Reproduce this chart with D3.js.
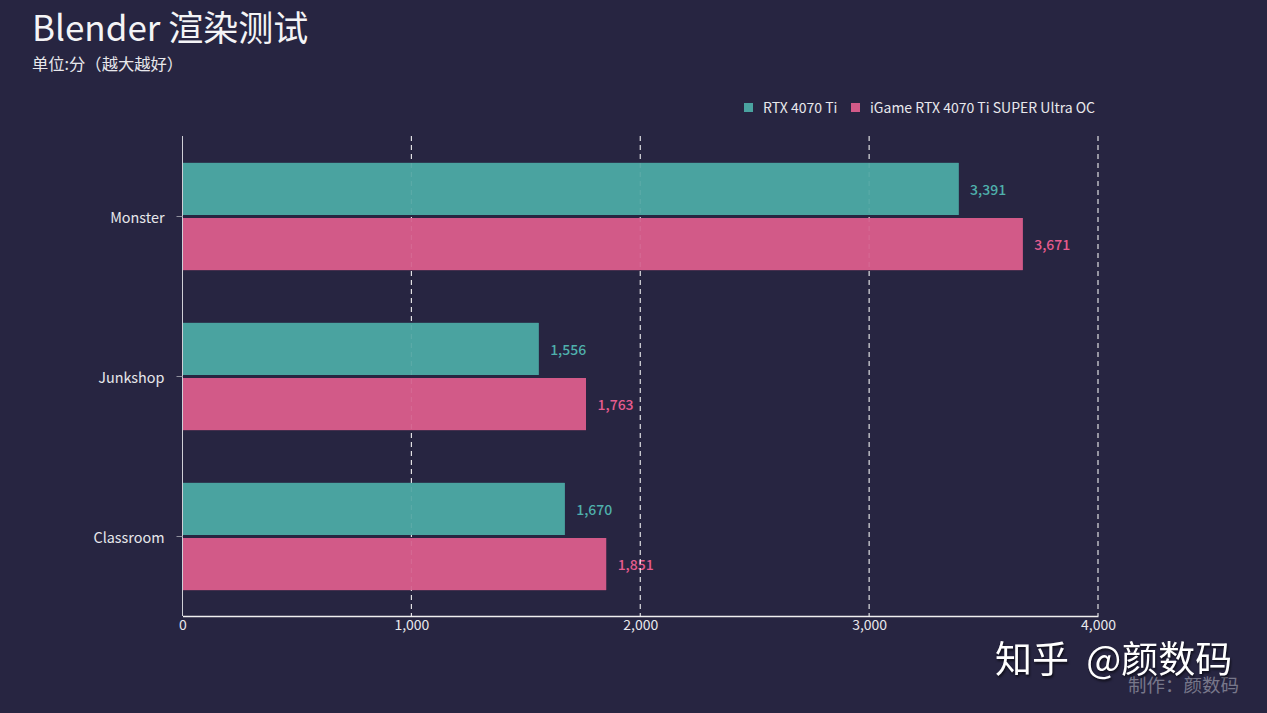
<!DOCTYPE html>
<html>
<head>
<meta charset="utf-8">
<script src="https://cdn.jsdelivr.net/npm/d3@7"></script>
<style>
    html, body { margin: 0; padding: 0; background: #272541; overflow: hidden; }
    text { font-family: "Noto Sans CJK SC", "Noto Sans", sans-serif; }
</style>
</head>
<body>
<script>
var categories = ["Monster", "Junkshop", "Classroom"];
var seriesNames = ["RTX 4070 Ti", "iGame RTX 4070 Ti SUPER Ultra OC"];
var rtx4070Ti = [3391, 1556, 1670];
var igameSuper = [3671, 1763, 1851];
var xTicks = [0, 1000, 2000, 3000, 4000];
var colors = ["#4aa3a0", "#d25a88"];
var labelColors = ["#4fb0ac", "#e65c8e"];

var svg = d3.select("body")
    .append("svg")
    .attr("width", 1267)
    .attr("height", 713);

svg.append("rect")
    .attr("width", 1267)
    .attr("height", 713)
    .attr("fill", "#272541");

var x = d3.scaleLinear().domain([0, 4000]).range([182.5, 1098]);
var y = d3.scaleBand().domain(categories).range([136.5, 616.5])
    .paddingInner(0.33).paddingOuter(0.165);
var yInner = d3.scaleBand().domain(seriesNames).range([0, y.bandwidth()])
    .paddingInner(0.055);

// Title block
svg.append("text").attr("x", 32).attr("y", 41)
    .attr("font-size", 35).attr("fill", "#f4f4f6")
    .text("Blender 渲染测试");
svg.append("text").attr("x", 32).attr("y", 70)
    .attr("font-size", 16.3).attr("fill", "#e8e8ec")
    .text("单位:分（越大越好）");

// Legend
var legendItems = [
    { swatch: 744, label: 763 },
    { swatch: 851, label: 870 }
];
seriesNames.forEach(function (name, i) {
    svg.append("rect")
        .attr("x", legendItems[i].swatch).attr("y", 103)
        .attr("width", 9).attr("height", 9)
        .attr("fill", colors[i]);
    svg.append("text")
        .attr("x", legendItems[i].label).attr("y", 113)
        .attr("font-size", 14).attr("fill", "#e8e8ec")
        .text(name);
});

// Bars
var rows = [rtx4070Ti, igameSuper];
rows.forEach(function (values, s) {
    svg.selectAll(".bar" + s)
        .data(values)
        .enter()
        .append("rect")
        .attr("class", "bar" + s)
        .attr("x", x(0))
        .attr("y", function (d, i) { return y(categories[i]) + yInner(seriesNames[s]); })
        .attr("width", function (d) { return x(d) - x(0); })
        .attr("height", yInner.bandwidth())
        .attr("fill", colors[s]);

    svg.selectAll(".value" + s)
        .data(values)
        .enter()
        .append("text")
        .attr("class", "value" + s)
        .attr("x", function (d) { return x(d) + 11.5; })
        .attr("y", function (d, i) { return y(categories[i]) + yInner(seriesNames[s]) + yInner.bandwidth() / 2 + 1; })
        .attr("dy", "0.35em")
        .attr("font-size", 14)
        .attr("font-weight", 500)
        .attr("fill", labelColors[s])
        .text(d3.format(","));
});

// Dashed grid, faint over the bars because the bars sit just under it
var grid = svg.append("g");
grid.selectAll("line")
    .data(xTicks.slice(1))
    .enter()
    .append("line")
    .attr("x1", function (d) { return x(d); })
    .attr("x2", function (d) { return x(d); })
    .attr("y1", 136)
    .attr("y2", 616)
    .attr("stroke", "#f0f0f0")
    .attr("stroke-width", 1.1)
    .attr("stroke-dasharray", "5 4");

// Bars again at high opacity to mute the grid behind them
rows.forEach(function (values, s) {
    svg.selectAll(".veil" + s)
        .data(values)
        .enter()
        .append("rect")
        .attr("class", "veil" + s)
        .attr("x", x(0))
        .attr("y", function (d, i) { return y(categories[i]) + yInner(seriesNames[s]); })
        .attr("width", function (d) { return x(d) - x(0); })
        .attr("height", yInner.bandwidth())
        .attr("fill", colors[s])
        .attr("opacity", 0.9);
});

// Axes
var xAxis = svg.append("g")
    .attr("transform", "translate(0,616)")
    .call(d3.axisBottom(x).tickValues(xTicks).tickFormat(d3.format(",")).tickSize(0).tickPadding(4));
xAxis.select(".domain").attr("stroke", "#f0f0f0").attr("stroke-width", 1.3);
xAxis.selectAll("text")
    .attr("font-size", 14).attr("fill", "#e8e8ec")
    .style("font-family", '"Noto Sans CJK SC", sans-serif');

var yAxis = svg.append("g")
    .attr("transform", "translate(182.5,0)")
    .call(d3.axisLeft(y).tickSize(6).tickPadding(12));
yAxis.select(".domain").attr("stroke", "#cfcfd6").attr("stroke-width", 1).attr("d", "M0,136V616");
yAxis.selectAll(".tick line").attr("stroke", "#8f8f9c");
yAxis.selectAll("text")
    .attr("font-size", 14.4).attr("fill", "#e8e8ec")
    .attr("dy", "0.42em")
    .style("font-family", '"Noto Sans CJK SC", sans-serif');

// Credit and watermark
svg.append("text").attr("x", 1128).attr("y", 692)
    .attr("font-size", 18.5).attr("fill", "#77778a")
    .text("制作：颜数码");
svg.append("text").attr("x", 995).attr("y", 673)
    .attr("font-size", 37).attr("fill", "#ffffff")
    .attr("word-spacing", 9)
    .attr("filter", "drop-shadow(1px 2px 1px rgba(0,0,0,0.6))")
    .text("知乎 @颜数码");
</script>
</body>
</html>
